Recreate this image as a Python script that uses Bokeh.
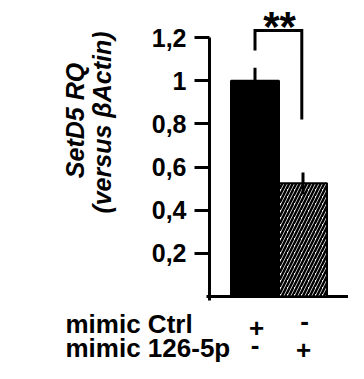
import math
from bokeh.plotting import figure
from bokeh.models import (Range1d, FixedTicker, CustomJSTickFormatter,
                          ColumnDataSource)
from bokeh.core.properties import value
from bokeh.embed import file_html
from bokeh.resources import INLINE

# ---- data ----
groups = ["Ctrl", "126-5p"]
rq = [1.0, 0.525]
rq_err = [0.06, 0.05]
bar_fill = ["black", "white"]
bar_hatch = [" ", "/"]
yticks = [0.2, 0.4, 0.6, 0.8, 1.0, 1.2]
row_labels = ["mimic Ctrl", "mimic 126-5p"]
row_ctrl = ["+", "-"]
row_mimic = ["-", "+"]
sig_text = "**"
ylabel_lines = ["SetD5 RQ", "(versus \u03b2Actin)"]

FONT = "Liberation Sans"
W, H = 348, 363

# picture-pixel helpers for annotation placement
FRAME_LEFT = 2.0
FRAME_RIGHT = FRAME_LEFT + W
FRAME_TOP = 3.0
FRAME_BOTTOM = FRAME_TOP + H
X_PX = 48.0        # px per x unit
X_REF = 256.5      # picture x of x=1
Y_PX = 215.83      # px per y unit
Y_ZERO = 299.0     # picture y of y=0


def xd(px):
    return 1 + (px - X_REF) / X_PX


def yd(py):
    return (Y_ZERO - py) / Y_PX


xs = [1, 2]
src = ColumnDataSource(dict(x=xs, top=rq, fill=bar_fill, hatch=bar_hatch,
                            lo=[v - e for v, e in zip(rq, rq_err)],
                            hi=[v + e for v, e in zip(rq, rq_err)]))

p = figure(width=W, height=H,
           x_range=Range1d(xd(FRAME_LEFT), xd(FRAME_RIGHT)),
           y_range=Range1d(yd(FRAME_BOTTOM), yd(FRAME_TOP)),
           output_backend="svg", toolbar_location=None,
           min_border_left=0, min_border_right=0,
           min_border_top=0, min_border_bottom=0,
           x_axis_type=None)
p.grid.visible = False
p.outline_line_color = None

# y axis, drawn at a fixed data location inside the plot
ax = p.yaxis[0]
ax.fixed_location = xd(211)
ax.ticker = FixedTicker(ticks=yticks)
ax.formatter = CustomJSTickFormatter(
    code="return String(Math.round(tick*10)/10).replace('.', ',');")
ax.bounds = (-0.018, 1.2)
ax.axis_line_width = 3
ax.major_tick_line_width = 3
ax.major_tick_out = 15
ax.major_tick_in = 0
ax.minor_tick_line_color = None
ax.major_label_text_font = FONT
ax.major_label_text_font_size = "25px"
ax.major_label_text_font_style = "bold"
ax.major_label_text_color = "black"
ax.major_label_standoff = 8

# x axis line
p.segment(x0=[xd(208)], y0=[0], x1=[xd(FRAME_RIGHT)], y1=[0],
          line_color="black", line_width=3)

# bars
p.vbar(x="x", top="top", width=1.0, source=src, fill_color="fill",
       hatch_pattern="hatch", hatch_color="black", hatch_scale=7,
       hatch_weight=2.5, line_color="black", line_width=2)

# error bars
p.segment(x0="x", y0="lo", x1="x", y1="hi", source=src,
          line_color="black", line_width=3)

# significance bracket
p.line(x=[xs[0], xs[0], xs[1] - 0.025, xs[1] - 0.025],
       y=[1.14, 1.233, 1.233, 0.82],
       line_color="black", line_width=3, line_join="miter")

p.text(x=[xd(281)], y=[yd(29)], text=[sig_text], text_align="center",
       text_baseline="alphabetic", text_font=value(FONT),
       text_font_size="42px", text_font_style="bold", text_color="black")

# y-axis title (two rotated lines)
p.text(x=[xd(76), xd(103)], y=[yd(123), yd(125)], text=ylabel_lines,
       angle=math.pi / 2, text_align="center", text_baseline="alphabetic",
       text_font=value(FONT), text_font_size="25px",
       text_font_style="bold italic", text_color="black")

# bottom condition rows
p.text(x=[xd(67), xd(67)], y=[yd(326), yd(350)], text=row_labels,
       text_align="left", text_baseline="alphabetic", text_font=value(FONT),
       text_font_size="26px", text_font_style="bold", text_color="black")

sign_x = [xd(258), xd(306), xd(256.5), xd(305)]
sign_y = [yd(330), yd(323), yd(347), yd(352)]
p.text(x=sign_x, y=sign_y, text=row_ctrl + row_mimic, text_align="center",
       text_baseline="alphabetic", text_font=value(FONT),
       text_font_size="26px", text_font_style="bold", text_color="black")

open("out.html", "w").write(file_html(p, INLINE))
